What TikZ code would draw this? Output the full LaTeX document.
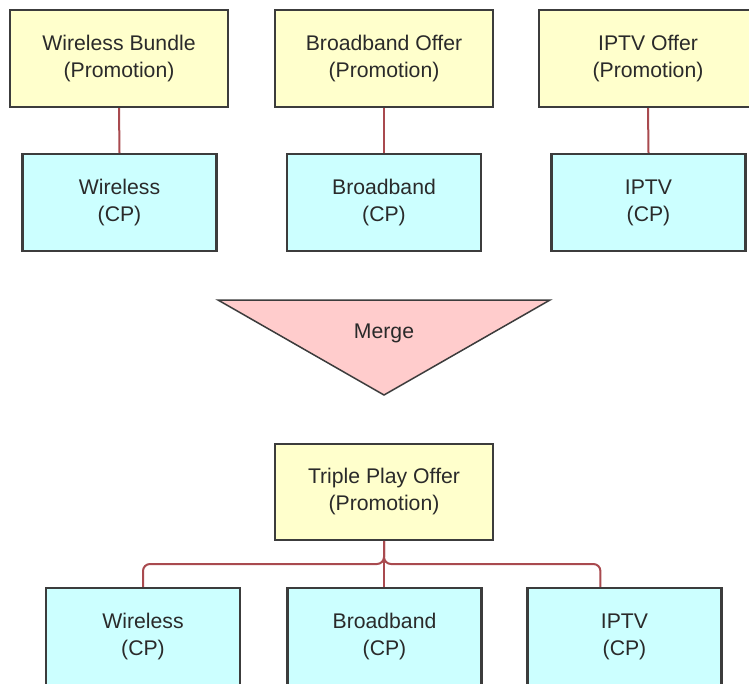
\documentclass[tikz,border=0pt]{standalone}
\usepackage{fontspec}
\setmainfont{Liberation Sans}
\definecolor{promofill}{HTML}{FFFFCC}
\definecolor{cpfill}{HTML}{CCFFFF}
\definecolor{mergefill}{HTML}{FFCCCC}
\definecolor{edgegray}{HTML}{3C3C3C}
\definecolor{connred}{HTML}{A94A4F}
\definecolor{txt}{HTML}{2A2A2A}
\tikzset{
  box/.style={draw=edgegray, line width=2.2pt, rectangle, align=center, text=txt,
    font=\fontsize{21.2}{27}\selectfont, inner sep=0pt},
  promo/.style={box, fill=promofill, minimum width=218pt, minimum height=97pt},
  cp/.style={box, fill=cpfill, minimum width=194pt, minimum height=97pt},
  conn/.style={draw=connred, line width=2pt},
  mergeshape/.style={draw=edgegray, line width=1.5pt, fill=mergefill, line join=miter},
}
\begin{document}
\begin{tikzpicture}[x=1pt,y=-1pt]
\useasboundingbox (0,0) rectangle (749,683);
\clip (0,0) rectangle (749,683);
\fill[white] (0,0) rectangle (749,683);

% top row
\node[promo] (p1) at (119,58.5) {Wireless Bundle\\(Promotion)};
\node[promo] (p2) at (384,58.5) {Broadband Offer\\(Promotion)};
\node[promo] (p3) at (648,58.5) {IPTV Offer\\(Promotion)};
\node[cp] (c1) at (119.5,202.5) {Wireless\\(CP)};
\node[cp] (c2) at (384,202.5) {Broadband\\(CP)};
\node[cp] (c3) at (648.5,202.5) {IPTV\\(CP)};
\draw[conn] (p1.south) -- (c1.north);
\draw[conn] (p2.south) -- (c2.north);
\draw[conn] (p3.south) -- (c3.north);

% merge triangle
\coordinate (ma) at (218,300);
\coordinate (mb) at (550,300);
\coordinate (mc) at (384,395);
\draw[mergeshape] (ma) -- (mb) -- (mc) -- cycle;
\node[text=txt, font=\fontsize{21.2}{27}\selectfont] (merge) at (384,333) {Merge};

% bottom
\node[promo, minimum height=96pt] (t) at (384,492) {Triple Play Offer\\(Promotion)};
\node[cp] (b1) at (143,636.5) {Wireless\\(CP)};
\node[cp] (b2) at (384.5,636.5) {Broadband\\(CP)};
\node[cp] (b3) at (624.5,636.5) {IPTV\\(CP)};
\coordinate (h) at (0,564);
\coordinate (b3in) at ([xshift=74pt]b3.north west);
\coordinate (b1in) at (b1.north);
\draw[conn, rounded corners=7pt] (t.south) -- (t.south |- h) -| (b1in);
\draw[conn, rounded corners=7pt] (t.south) -- (t.south |- h) -| (b3in);
\draw[conn] (t.south) -- (t.south |- b2.north);
\end{tikzpicture}
\end{document}
